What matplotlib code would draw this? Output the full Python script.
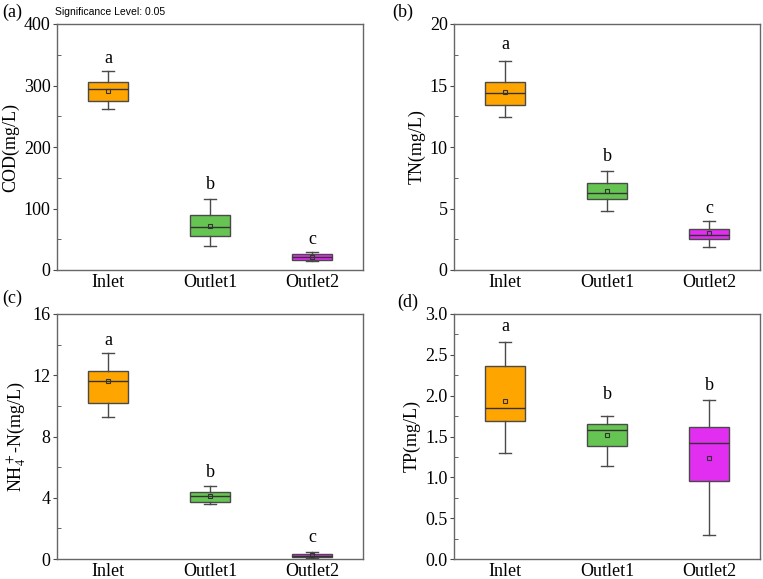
import matplotlib
matplotlib.use("Agg")
import matplotlib.pyplot as plt
from matplotlib.ticker import MultipleLocator

plt.rcParams["font.family"] = ["Liberation Serif", "DejaVu Serif"]
plt.rcParams["mathtext.fontset"] = "stix"

groups = ["Inlet", "Outlet1", "Outlet2"]
colors = ["#FFA500", "#66C452", "#E22EF0"]

# box stats per panel: low whisker, Q1, median, Q3, high whisker, mean
cod_low = [262, 39.6, 14.6]
cod_q1 = [274, 55.8, 16.8]
cod_med = [293.8, 69.4, 21.7]
cod_q3 = [306, 89.4, 26]
cod_high = [323.6, 116, 29]
cod_mean = [291, 72, 21]
cod_letters = ["a", "b", "c"]
cod_letter_y = [344, 139, 50]

tn_low = [12.4, 4.77, 1.87]
tn_q1 = [13.44, 5.8, 2.55]
tn_med = [14.36, 6.23, 2.82]
tn_q3 = [15.3, 7.1, 3.36]
tn_high = [17.0, 8.08, 3.96]
tn_mean = [14.47, 6.42, 2.98]
tn_letters = ["a", "b", "c"]
tn_letter_y = [18.3, 9.2, 5.0]

nh4_low = [9.26, 3.56, 0.04]
nh4_q1 = [10.19, 3.75, 0.13]
nh4_med = [11.64, 4.1, 0.22]
nh4_q3 = [12.27, 4.38, 0.30]
nh4_high = [13.44, 4.77, 0.48]
nh4_mean = [11.64, 4.14, 0.26]
nh4_letters = ["a", "b", "c"]
nh4_letter_y = [14.3, 5.64, 1.41]

tp_low = [1.30, 1.14, 0.30]
tp_q1 = [1.69, 1.38, 0.955]
tp_med = [1.85, 1.58, 1.42]
tp_q3 = [2.36, 1.65, 1.62]
tp_high = [2.66, 1.75, 1.95]
tp_mean = [1.93, 1.52, 1.24]
tp_letters = ["a", "b", "b"]
tp_letter_y = [2.85, 2.01, 2.12]

panels = [
    ("(a)", "COD(mg/L)", 400, 100, 50, "{:.0f}",
     cod_low, cod_q1, cod_med, cod_q3, cod_high, cod_mean, cod_letters, cod_letter_y),
    ("(b)", "TN(mg/L)", 20, 5, 2.5, "{:.0f}",
     tn_low, tn_q1, tn_med, tn_q3, tn_high, tn_mean, tn_letters, tn_letter_y),
    ("(c)", r"NH$_4^+$-N(mg/L)", 16, 4, 2, "{:.0f}",
     nh4_low, nh4_q1, nh4_med, nh4_q3, nh4_high, nh4_mean, nh4_letters, nh4_letter_y),
    ("(d)", "TP(mg/L)", 3.0, 0.5, 0.25, "{:.1f}",
     tp_low, tp_q1, tp_med, tp_q3, tp_high, tp_mean, tp_letters, tp_letter_y),
]

W, H = 763, 579
fig = plt.figure(figsize=(W / 100, H / 100), dpi=100)

# axes boxes in pixels: left, top, right, bottom
boxes = [(57, 24, 363, 270), (454, 24, 760, 270),
         (57, 314, 363, 559), (454, 314, 760, 559)]
label_pos = [(2, 12), (392, 12), (2, 298), (397, 302)]
edge = "#4a4a4a"

for i, (tag, ylabel, ymax, major, minor, fmt, lo, q1, med, q3, hi, mn, let, let_y) in enumerate(panels):
    l, t, r, b = boxes[i]
    ax = fig.add_axes([l / W, 1 - b / H, (r - l) / W, (b - t) / H])
    stats = []
    for k in range(3):
        stats.append({"whislo": lo[k], "q1": q1[k], "med": med[k], "q3": q3[k],
                      "whishi": hi[k], "mean": mn[k], "fliers": []})
    bp = ax.bxp(stats, positions=[1, 2, 3], widths=0.4, patch_artist=True,
                showmeans=True, capwidths=0.12,
                boxprops=dict(edgecolor=edge, linewidth=1.0),
                medianprops=dict(color="#333333", linewidth=1.0),
                whiskerprops=dict(color=edge, linewidth=1.0),
                capprops=dict(color=edge, linewidth=1.0),
                meanprops=dict(marker="s", markersize=3, markerfacecolor="none",
                               markeredgecolor="#333333", markeredgewidth=0.8))
    for patch, c in zip(bp["boxes"], colors):
        patch.set_facecolor(c)
    for k in range(3):
        ax.text(k + 1, let_y[k], let[k], ha="center", va="center", fontsize=13)

    ax.set_xlim(0.5, 3.5)
    ax.set_ylim(0, ymax)
    ax.yaxis.set_major_locator(MultipleLocator(major))
    ax.yaxis.set_minor_locator(MultipleLocator(minor))
    ax.set_yticklabels([fmt.format(v) for v in ax.get_yticks()])
    ax.set_xticks([1, 2, 3])
    ax.set_xticklabels(groups)
    ax.tick_params(axis="y", which="major", direction="out", length=3,
                   color=edge, labelsize=13, pad=1.5)
    ax.tick_params(axis="y", which="minor", direction="in", length=3, color=edge)
    ax.tick_params(axis="x", length=0, labelsize=13, pad=3)
    for s in ax.spines.values():
        s.set_color("#666666")
        s.set_linewidth(1.0)
    ax.set_ylabel(ylabel, fontsize=13, labelpad=3)

    fig.text(label_pos[i][0] / W, 1 - label_pos[i][1] / H, tag,
             fontsize=13, va="center", ha="left")

fig.text(55 / W, 1 - 12 / H, "Significance Level: 0.05",
         fontsize=7.5, family=["Liberation Sans", "DejaVu Sans"], va="center")

fig.savefig("out.png", dpi=100)
